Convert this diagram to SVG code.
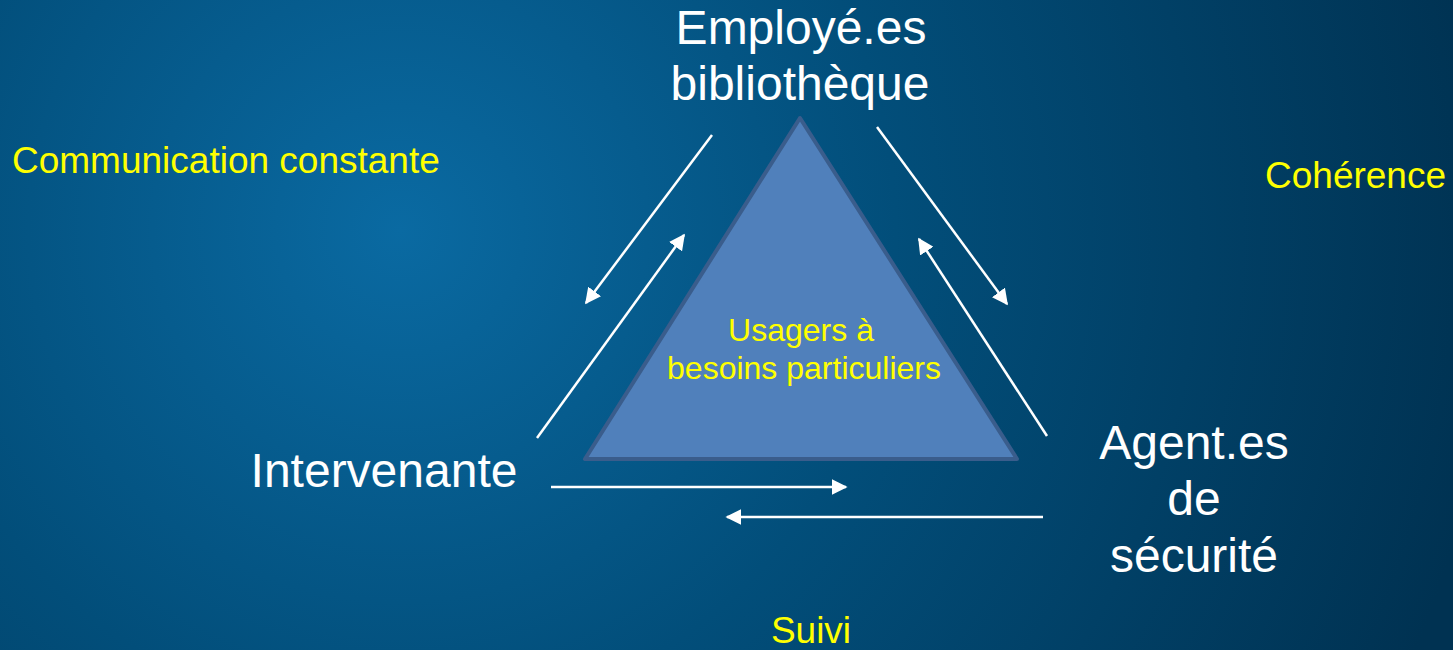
<svg xmlns="http://www.w3.org/2000/svg" width="1453" height="650" viewBox="0 0 1453 650">
<defs>
<radialGradient id="bg" gradientUnits="userSpaceOnUse" cx="400" cy="230" r="1100">
<stop offset="0" stop-color="#0a6aa2"/>
<stop offset="0.45" stop-color="#024e7a"/>
<stop offset="1" stop-color="#003252"/>
</radialGradient>
<marker id="ah" viewBox="0 0 10 10" refX="9" refY="5" markerWidth="6.4" markerHeight="6.4" markerUnits="strokeWidth" orient="auto">
<path d="M0,0 L10,5 L0,10 Z" fill="#ffffff"/>
</marker>
<style>
.big{font-family:"Liberation Sans",Arial,sans-serif;font-size:48px;fill:#ffffff;text-anchor:middle}
.yel{font-family:"Liberation Sans",Arial,sans-serif;font-size:37px;fill:#ffff00}
.tri{font-family:"Liberation Sans",Arial,sans-serif;font-size:32px;fill:#ffff00;text-anchor:middle}
.arr{stroke:#ffffff;stroke-width:2.5;fill:none;marker-end:url(#ah)}
</style>
</defs>
<rect width="1453" height="650" fill="url(#bg)"/>
<g id="center">
<polygon points="800,118 585,459 1017,459" fill="#5080bb" stroke="#3a5d8c" stroke-width="4" stroke-linejoin="round"/>
<text class="tri" x="801" y="341">Usagers à</text>
<text class="tri" x="804" y="379">besoins particuliers</text>
</g>
<g id="employes">
<text class="big" x="801" y="44">Employé.es</text>
<text class="big" x="800" y="100">bibliothèque</text>
</g>
<g id="intervenante">
<text class="big" x="384" y="487">Intervenante</text>
</g>
<g id="agents">
<text class="big" x="1194" y="459">Agent.es</text>
<text class="big" x="1194" y="515">de</text>
<text class="big" x="1194" y="572">sécurité</text>
</g>
<g id="labels">
<text class="yel" x="12" y="173">Communication constante</text>
<text class="yel" x="1265" y="188">Cohérence</text>
<text class="yel" x="811" y="643" text-anchor="middle">Suivi</text>
</g>
<g id="connectors">
<line class="arr" x1="712" y1="135" x2="586" y2="303"/>
<line class="arr" x1="537" y1="438" x2="684" y2="235"/>
<line class="arr" x1="877" y1="127" x2="1007" y2="304"/>
<line class="arr" x1="1047" y1="436" x2="919" y2="239"/>
<line class="arr" x1="551" y1="487" x2="846" y2="487"/>
<line class="arr" x1="1043" y1="517" x2="727" y2="517"/>
</g>
</svg>
